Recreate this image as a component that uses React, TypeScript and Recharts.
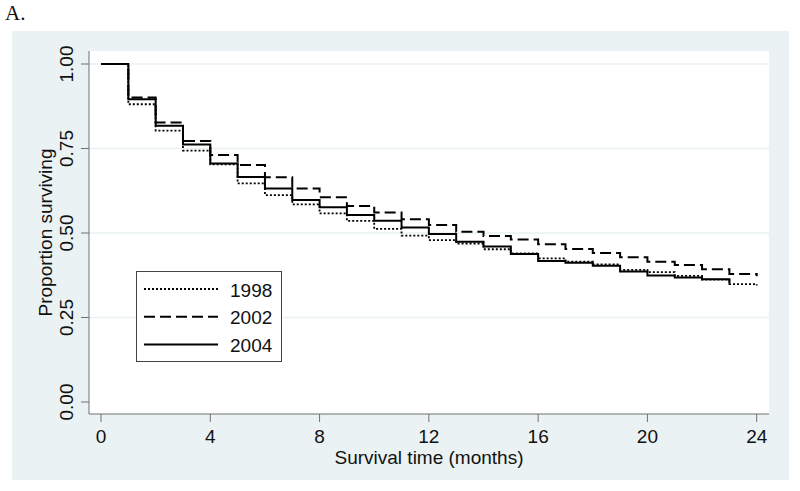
import React from 'react';
import { LineChart, Line, XAxis, YAxis, CartesianGrid, ReferenceLine, Legend, Label } from 'recharts';

// Kaplan-Meier step estimates (value holds from month m to m+1)
const months = [0, 1, 2, 3, 4, 5, 6, 7, 8, 9, 10, 11, 12, 13, 14, 15, 16, 17, 18, 19, 20, 21, 22, 23, 24];
const surv1998 = [1, 0.881, 0.803, 0.744, 0.703, 0.647, 0.612, 0.585, 0.558, 0.536, 0.512, 0.492, 0.479, 0.469, 0.452, 0.44, 0.425, 0.415, 0.407, 0.391, 0.384, 0.373, 0.362, 0.349, 0.345];
const surv2002 = [1, 0.901, 0.827, 0.772, 0.731, 0.701, 0.665, 0.632, 0.606, 0.58, 0.561, 0.541, 0.524, 0.504, 0.491, 0.481, 0.467, 0.453, 0.441, 0.428, 0.415, 0.405, 0.393, 0.379, 0.372];
const surv2004 = [1, 0.896, 0.817, 0.762, 0.706, 0.666, 0.632, 0.598, 0.576, 0.553, 0.536, 0.516, 0.497, 0.474, 0.46, 0.438, 0.417, 0.412, 0.403, 0.386, 0.374, 0.368, 0.363, 0.35, null];

const xTicks = [0, 4, 8, 12, 16, 20, 24];
const yTicks = [0, 0.25, 0.5, 0.75, 1];
const gridValues = [0.25, 0.5, 0.75, 1];

const seriesNames = ['1998', '2002', '2004'];
const seriesDash = ['2 2', '11 5', undefined];

const rows = months.map((m, i) => ({
  month: m,
  y1998: surv1998[i],
  y2002: surv2002[i],
  y2004: surv2004[i],
}));

const FONT = '"Liberation Sans", Arial, Helvetica, sans-serif';
const PANEL = '#eaf2f3';

const YTick = ({ x, y, payload }: any) => (
  <text
    x={x}
    y={y}
    transform={`rotate(-90 ${x} ${y})`}
    textAnchor="middle"
    fontSize={19}
    fill="#111"
  >
    {Number(payload.value).toFixed(2)}
  </text>
);

const XTitle = ({ viewBox }: any) => (
  <text x={viewBox.x + viewBox.width / 2} y={viewBox.y + 49.5} textAnchor="middle" fontSize={19} fill="#111">
    Survival time (months)
  </text>
);

const YTitle = ({ viewBox }: any) => {
  const cx = 51.5;
  const cy = viewBox.y + viewBox.height / 2;
  return (
    <text x={cx} y={cy} transform={`rotate(-90 ${cx} ${cy})`} textAnchor="middle" fontSize={19} fill="#111">
      Proportion surviving
    </text>
  );
};

const LegendBox = () => (
  <div style={{ width: 146, height: 91, boxSizing: 'border-box', border: '1px solid #444', background: '#fff' }}>
    <svg width={144} height={89} style={{ display: 'block' }}>
      {seriesNames.map((name, i) => (
        <g key={name}>
          <line x1={7} x2={81} y1={17 + i * 27.7} y2={17 + i * 27.7} stroke="#000" strokeWidth={i === 0 ? 1.8 : 2} strokeDasharray={seriesDash[i]} />
          <text x={93} y={24.5 + i * 27.7} fontSize={19} fill="#111" fontFamily={FONT}>
            {name}
          </text>
        </g>
      ))}
    </svg>
  </div>
);

export default function App() {
  return (
    <div style={{ position: 'absolute', left: 0, top: 0, width: 800, height: 491, background: '#fff', fontFamily: FONT }}>
      <svg width={60} height={30} style={{ position: 'absolute', left: 0, top: 0 }}>
        <text x={5} y={20} fontSize={21} fontFamily='"Liberation Serif", "Times New Roman", serif' fill="#111">
          A.
        </text>
      </svg>
      <div style={{ position: 'absolute', left: 12, top: 31, width: 777, height: 449, background: PANEL }} />
      <div style={{ position: 'absolute', left: 0, top: 0 }}>
        <LineChart width={800} height={491} data={rows} margin={{ top: 51, right: 31, bottom: 0, left: 0 }} style={{ fontFamily: FONT }}>
          <CartesianGrid horizontal={false} vertical={false} fill="#ffffff" fillOpacity={1} />
          {gridValues.map((v) => (
            <ReferenceLine key={v} y={v} stroke={PANEL} strokeWidth={1.5} />
          ))}
          <XAxis
            type="number"
            dataKey="month"
            domain={[-0.44, 24.45]}
            ticks={xTicks}
            allowDataOverflow
            height={77}
            tickSize={8}
            tickMargin={8}
            stroke="#707070"
            tick={{ fill: '#111', fontSize: 19 }}
          >
            <Label content={XTitle} />
          </XAxis>
          <YAxis
            type="number"
            domain={[-0.0355, 1.0385]}
            ticks={yTicks}
            allowDataOverflow
            width={89}
            tickSize={8}
            tickMargin={7.5}
            stroke="#707070"
            tick={<YTick />}
          >
            <Label content={YTitle} />
          </YAxis>
          <Legend layout="vertical" align="center" verticalAlign="middle" content={LegendBox} wrapperStyle={{ left: 136, top: 271, width: 146, height: 91 }} />
          <Line type="stepAfter" dataKey="y1998" name="1998" stroke="#000" strokeWidth={1.8} strokeDasharray="2 2" dot={false} isAnimationActive={false} />
          <Line type="stepAfter" dataKey="y2002" name="2002" stroke="#000" strokeWidth={2} strokeDasharray="11 5" dot={false} isAnimationActive={false} />
          <Line type="stepAfter" dataKey="y2004" name="2004" stroke="#000" strokeWidth={2} dot={false} isAnimationActive={false} />
        </LineChart>
      </div>
    </div>
  );
}
